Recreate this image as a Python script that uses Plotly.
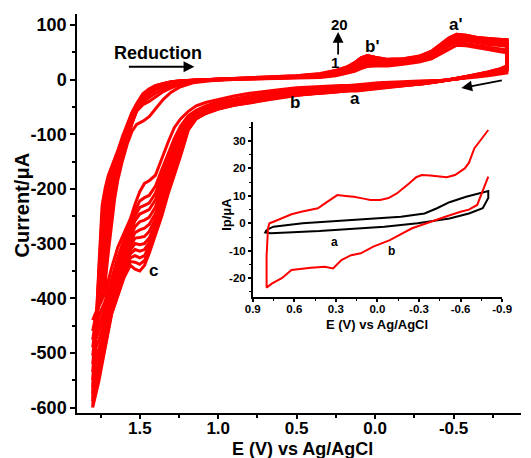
import plotly.graph_objects as go

# ---------------- main CV data (scans 1..20, 12 representative scans drawn) ----------------
E_forward = [1.80, 1.79, 1.78, 1.76, 1.74, 1.72, 1.70, 1.68, 1.66, 1.64,
             1.61, 1.58, 1.55, 1.52, 1.48, 1.44, 1.40, 1.35, 1.30, 1.24,
             1.16, 1.05, 0.90, 0.70, 0.50, 0.35, 0.25, 0.18, 0.13, 0.09,
             0.05, 0.00, -0.08, -0.18, -0.28, -0.36, -0.42, -0.47, -0.52, -0.58,
             -0.65, -0.72, -0.78, -0.84]
E_return = [-0.84, -0.80, -0.72, -0.62, -0.52, -0.42, -0.32, -0.22, -0.12, -0.02,
            0.06, 0.12, 0.17, 0.22, 0.30, 0.40, 0.50, 0.60, 0.70, 0.80,
            0.90, 1.00, 1.08, 1.14, 1.19, 1.24, 1.28, 1.32, 1.36, 1.40,
            1.44, 1.47, 1.50, 1.53, 1.56, 1.60, 1.64, 1.68, 1.72, 1.76, 1.80]

fwd_c1 = [-440, -432, -424, -412, -400, -370, -315, -262, -218, -184, -148, -118, -95, -82, -76, -68, -54, -36, -23, -13,
          -6, -2, 0, 1, 2, 4, 7, 11, 15, 20, 24, 25, 25, 28, 32, 38, 47, 56, 63, 62, 58, 55, 52, 49]
fwd_c2 = [-460, -445, -432, -412, -385, -335, -280, -235, -200, -172, -140, -110, -80, -58, -46, -40, -32, -22, -15, -9,
          -4, -1, 1, 2, 3, 5, 9, 13, 18, 24, 28, 28, 27, 30, 34, 41, 51, 61, 68, 66, 62, 59, 57, 54]
fwd_c3 = [-476, -458, -441, -409, -368, -314, -264, -224, -192, -166, -135, -107, -79, -57, -42, -33, -25, -17, -11, -7,
          -3, -1, 1, 2, 3, 5, 10, 14, 20, 27, 31, 30, 29, 31, 35, 43, 54, 65, 72, 71, 67, 64, 63, 61]
fwd_c4 = [-490, -470, -448, -405, -350, -295, -250, -215, -185, -160, -130, -104, -78, -56, -38, -27, -19, -12, -8, -5,
          -2, -1, 1, 2, 4, 6, 11, 16, 22, 29, 33, 32, 30, 32, 36, 44, 56, 67, 74, 73, 69, 67, 66, 64]
fwd_c6 = [-505, -483, -457, -400, -334, -278, -237, -205, -178, -155, -126, -100, -75, -54, -36, -25, -17, -11, -7, -4,
          -2, 0, 1, 3, 5, 7, 12, 18, 24, 31, 36, 34, 32, 34, 38, 46, 58, 69, 76, 75, 71, 69, 68, 67]
fwd_c8 = [-520, -495, -465, -395, -318, -262, -225, -196, -172, -150, -122, -97, -73, -53, -34, -23, -16, -10, -6, -4,
          -2, 0, 1, 3, 5, 8, 13, 19, 26, 34, 38, 36, 33, 35, 39, 47, 60, 71, 78, 77, 73, 71, 70, 69]
fwd_c10 = [-535, -500, -465, -385, -304, -250, -215, -189, -167, -146, -118, -94, -70, -51, -32, -22, -15, -9, -6, -3,
           -1, 0, 1, 3, 5, 8, 14, 20, 27, 36, 40, 38, 34, 36, 40, 48, 61, 72, 79, 78, 74, 72, 71, 70]
fwd_c12 = [-550, -505, -465, -375, -290, -238, -205, -182, -162, -142, -115, -91, -68, -50, -31, -21, -14, -9, -5, -3,
           -1, 0, 1, 3, 6, 9, 15, 21, 28, 37, 41, 39, 35, 36, 41, 49, 62, 73, 80, 79, 75, 73, 72, 71]
fwd_c14 = [-563, -510, -463, -368, -276, -228, -198, -176, -157, -139, -112, -88, -66, -48, -30, -20, -13, -8, -5, -3,
           -1, 0, 2, 3, 6, 10, 15, 22, 29, 38, 42, 40, 36, 37, 41, 50, 63, 74, 81, 80, 76, 74, 72, 72]
fwd_c16 = [-575, -515, -460, -360, -262, -218, -190, -171, -153, -136, -109, -86, -64, -47, -28, -19, -12, -8, -5, -2,
           -1, 0, 2, 4, 6, 10, 16, 22, 30, 39, 43, 40, 36, 37, 42, 51, 64, 75, 82, 80, 76, 74, 73, 72]
fwd_c18 = [-588, -518, -458, -350, -246, -208, -182, -165, -149, -133, -106, -84, -62, -45, -27, -18, -11, -7, -4, -2,
           -1, 0, 2, 4, 7, 10, 16, 23, 31, 40, 44, 41, 37, 38, 42, 52, 65, 76, 83, 81, 77, 75, 74, 73]
fwd_c20 = [-600, -520, -455, -340, -230, -198, -175, -160, -146, -130, -104, -82, -60, -44, -26, -17, -11, -7, -4, -2,
           -1, 0, 2, 4, 7, 11, 17, 23, 31, 40, 44, 41, 37, 38, 43, 52, 65, 76, 83, 81, 77, 75, 74, 73]

ret_c1 = [12, 10, 7, 4, 1, -1, -2, -3, -5, -6, -8, -10, -11, -11, -12, -13, -15, -18, -21, -25,
          -30, -36, -42, -48, -58, -72, -88, -115, -145, -175, -185, -190, -205, -228, -255, -280, -307, -345, -390, -415, -440]
ret_c2 = [16, 13, 9, 5, 1, -2, -4, -5, -7, -9, -11, -13, -14, -14, -15, -17, -19, -22, -26, -30,
          -35, -41, -48, -56, -66, -85, -108, -135, -165, -195, -212, -216, -222, -240, -262, -292, -325, -365, -405, -432, -460]
ret_c3 = [17, 14, 10, 5, 1, -2, -4, -6, -8, -10, -12, -14, -15, -16, -17, -18, -20, -23, -27, -32,
          -37, -43, -50, -58, -70, -92, -117, -146, -178, -208, -226, -230, -234, -249, -270, -301, -335, -375, -417, -446, -476]
ret_c4 = [18, 15, 10, 6, 1, -2, -5, -7, -9, -11, -13, -15, -16, -17, -18, -20, -22, -25, -29, -34,
          -39, -45, -52, -61, -74, -100, -127, -157, -190, -220, -238, -242, -246, -258, -278, -310, -345, -385, -428, -460, -490]
ret_c6 = [19, 15, 10, 6, 1, -2, -5, -7, -10, -12, -14, -16, -17, -18, -19, -21, -23, -26, -30, -35,
          -40, -46, -54, -63, -77, -108, -136, -168, -201, -233, -252, -257, -260, -269, -287, -319, -355, -395, -441, -476, -505]
ret_c8 = [20, 16, 11, 6, 1, -3, -6, -8, -10, -13, -15, -17, -18, -19, -20, -22, -24, -27, -32, -37,
          -42, -48, -56, -65, -80, -115, -145, -178, -212, -245, -265, -272, -275, -280, -296, -328, -365, -405, -455, -492, -520]
ret_c10 = [21, 17, 12, 7, 2, -3, -6, -8, -11, -13, -16, -18, -19, -20, -21, -23, -25, -28, -33, -38,
           -43, -50, -58, -67, -83, -120, -152, -186, -221, -255, -278, -287, -289, -290, -304, -335, -372, -412, -464, -505, -535]
ret_c12 = [22, 18, 12, 7, 2, -3, -6, -9, -11, -14, -17, -19, -19, -20, -22, -24, -26, -30, -34, -39,
           -45, -51, -59, -68, -85, -125, -158, -193, -230, -265, -290, -300, -302, -300, -312, -342, -380, -418, -472, -518, -550]
ret_c14 = [23, 18, 13, 7, 2, -3, -7, -9, -12, -14, -17, -19, -20, -21, -22, -25, -27, -31, -35, -40,
           -46, -52, -60, -69, -86, -128, -162, -197, -235, -270, -298, -311, -314, -311, -319, -347, -385, -421, -477, -527, -563]
ret_c16 = [24, 19, 13, 7, 2, -3, -7, -10, -12, -15, -18, -20, -20, -21, -23, -25, -28, -31, -36, -41,
           -46, -53, -61, -70, -88, -132, -167, -202, -240, -275, -305, -322, -326, -322, -326, -352, -390, -425, -482, -535, -575]
ret_c18 = [25, 20, 14, 8, 2, -3, -7, -10, -13, -15, -18, -20, -21, -22, -24, -26, -28, -32, -37, -42,
           -47, -54, -62, -71, -90, -136, -171, -206, -245, -280, -312, -331, -338, -334, -333, -357, -394, -428, -486, -543, -588]
ret_c20 = [25, 20, 14, 8, 2, -3, -7, -10, -13, -16, -19, -21, -21, -22, -24, -26, -29, -33, -38, -43,
           -47, -54, -62, -72, -92, -140, -175, -210, -250, -285, -318, -340, -350, -347, -340, -362, -398, -430, -490, -551, -600]

# ---------------- inset data ----------------
inset_a_E = [0.80, 0.75, 0.54, 0.18, -0.17, -0.34, -0.43, -0.52, -0.64, -0.80,
             -0.80, -0.76, -0.66, -0.52, -0.29, -0.05, 0.18, 0.42, 0.65, 0.77, 0.81, 0.80]
inset_a_I = [-2.4, -1.2, 0, 1.2, 2.4, 3.6, 5.5, 7.7, 9.7, 11.8,
             9.2, 5.5, 3.6, 1.8, 0, -1.2, -2.1, -2.8, -3.3, -3.6, -3.3, -2.4]
inset_b_E = [-0.80, -0.76, -0.72, -0.66, -0.60, -0.49, -0.37, -0.25, -0.15, -0.09,
             0.03, 0.12, 0.19, 0.26, 0.32, 0.38, 0.48, 0.56, 0.62, 0.69,
             0.76, 0.80, 0.80, 0.79, 0.78, 0.75, 0.69, 0.62, 0.55, 0.47,
             0.43, 0.36, 0.31, 0.29, 0.23, 0.17, 0.10, 0.05, -0.02, -0.08,
             -0.14, -0.19, -0.23, -0.28, -0.32, -0.38, -0.44, -0.50, -0.56, -0.60,
             -0.63, -0.66, -0.70, -0.74, -0.77, -0.80]
inset_b_I = [17, 11.5, 6.7, 5.0, 4.2, 2.4, 0.3, -1.8, -4.5, -6.1,
             -8.5, -10.9, -11.6, -13.4, -16.4, -15.8, -16.2, -16.6, -17, -20,
             -21.9, -23.4, -12, -1.8, 0, 0.6, 1.8, 3.3, 4.2, 5.2,
             5.5, 7.9, 9.8, 10.3, 10.0, 9.7, 9.0, 8.5, 8.5, 9.2,
             10.9, 12.8, 14.6, 16.8, 17.6, 17.4, 17.0, 16.8, 17.6, 19.0,
             20, 22, 27.4, 30, 32, 34]

main_xticks = [1.5, 1.0, 0.5, 0.0, -0.5]
main_xticktext = ["1.5", "1.0", "0.5", "0.0", "-0.5"]
main_yticks = [100, 0, -100, -200, -300, -400, -500, -600]
main_yticktext = ["100", "0", "-100", "-200", "-300", "-400", "-500", "-600"]
inset_xticks = [0.9, 0.6, 0.3, 0.0, -0.3, -0.6, -0.9]
inset_xticktext = ["0.9", "0.6", "0.3", "0.0", "-0.3", "-0.6", "-0.9"]
inset_yticks = [30, 20, 10, 0, -10, -20]
inset_yticktext = ["30", "20", "10", "0", "-10", "-20"]

FONT = "Liberation Sans, Arial, sans-serif"
RED = "#ff0000"

fig = go.Figure()
scans = [(fwd_c1, ret_c1), (fwd_c2, ret_c2), (fwd_c3, ret_c3), (fwd_c4, ret_c4),
         (fwd_c6, ret_c6), (fwd_c8, ret_c8), (fwd_c10, ret_c10), (fwd_c12, ret_c12),
         (fwd_c14, ret_c14), (fwd_c16, ret_c16), (fwd_c18, ret_c18), (fwd_c20, ret_c20)]
for fwd, ret in scans:
    fig.add_trace(go.Scatter(x=E_forward + E_return, y=fwd + ret, mode="lines",
                             line=dict(color=RED, width=3.0), showlegend=False,
                             hoverinfo="skip"))

fig.add_trace(go.Scatter(x=inset_a_E, y=inset_a_I, mode="lines", xaxis="x2", yaxis="y2",
                         line=dict(color="black", width=2), showlegend=False))
fig.add_trace(go.Scatter(x=inset_b_E, y=inset_b_I, mode="lines", xaxis="x2", yaxis="y2",
                         line=dict(color=RED, width=2), showlegend=False))

W, H = 531, 458
L, R, T, B = 77, 531, 14, 412.7


def P(px, py):
    return (px - L) / (R - L), (B - py) / (B - T)


def txt(text, px, py, size, angle=0):
    x, y = P(px, py)
    return dict(text=text, x=x, y=y, xref="paper", yref="paper", showarrow=False,
                textangle=angle, xanchor="center", yanchor="middle",
                font=dict(family=FONT, size=size, color="black", weight="bold"))


def arrow(hx, hy, tx, ty):
    x, y = P(hx, hy)
    return dict(text="", x=x, y=y, xref="paper", yref="paper", showarrow=True,
                ax=tx - hx, ay=ty - hy, arrowhead=2, arrowsize=1.2, arrowwidth=1.8,
                arrowcolor="black", standoff=0, startstandoff=0)


ix0, _ = P(256.7, 0)
ix1, _ = P(511.7, 0)
_, iy0 = P(0, 296.7)
_, iy1 = P(0, 121.7)

axis_common = dict(showline=True, linecolor="black", linewidth=1.5, ticks="outside",
                   tickcolor="black", tickwidth=1.5, showgrid=False, zeroline=False)

fig.update_layout(
    width=W, height=H,
    margin=dict(l=L, r=W - R, t=T, b=H - B),
    paper_bgcolor="white", plot_bgcolor="white",
    xaxis=dict(range=[1.90, -0.93], tickvals=main_xticks, ticktext=main_xticktext,
               ticklen=4, ticklabelstandoff=-5,
               tickfont=dict(family=FONT, size=17, color="black", weight="bold"),
               minor=dict(tickvals=[1.75, 1.25, 0.75, 0.25, -0.25, -0.75], ticks="outside",
                          ticklen=3, tickcolor="black", tickwidth=1.5),
               **axis_common),
    yaxis=dict(range=[-610, 120], tickvals=main_yticks, ticktext=main_yticktext,
               ticklen=5, tickfont=dict(family=FONT, size=18, color="black", weight="bold"),
               minor=dict(tickvals=[50, -50, -150, -250, -350, -450, -550], ticks="outside",
                          ticklen=3, tickcolor="black", tickwidth=1.5),
               **axis_common),
    xaxis2=dict(domain=[ix0, ix1], anchor="y2", range=[0.9, -0.9],
                tickvals=inset_xticks, ticktext=inset_xticktext, ticklen=3,
                ticklabelstandoff=-2,
                tickfont=dict(family=FONT, size=11.5, color="black", weight="bold"),
                minor=dict(tickvals=[0.75, 0.45, 0.15, -0.15, -0.45, -0.75], ticks="outside",
                           ticklen=2, tickcolor="black", tickwidth=1.2),
                **axis_common),
    yaxis2=dict(domain=[iy0, iy1], anchor="x2", range=[-26.8, 37],
                tickvals=inset_yticks, ticktext=inset_yticktext, ticklen=3,
                tickfont=dict(family=FONT, size=11.5, color="black", weight="bold"),
                minor=dict(tickvals=[35, 25, 15, 5, -5, -15, -25], ticks="outside",
                           ticklen=2, tickcolor="black", tickwidth=1.2),
                **axis_common),
    annotations=[
        txt("Current/μA", 21, 205, 20, -90),
        txt("E (V) vs Ag/AgCl", 308, 448.5, 18),
        txt("Reduction", 160, 53, 18),
        arrow(197, 66.7, 130, 66.7),
        arrow(344, 32, 344, 56),
        txt("20", 345, 24, 15),
        txt("1", 341, 62, 15),
        txt("b'", 379, 46, 17),
        txt("a'", 465, 24, 17),
        txt("a", 361, 98, 17),
        txt("b", 300, 102, 17),
        txt("c", 155, 270, 17),
        arrow(470, 88, 512, 80),
        txt("a", 340, 241.7, 12),
        txt("b", 398.3, 251, 12),
        txt("Ip/μA", 229, 214, 13, -90),
        txt("E (V) vs Ag/AgCl", 383.3, 324, 13),
    ],
)

fig.write_html("out.html")
